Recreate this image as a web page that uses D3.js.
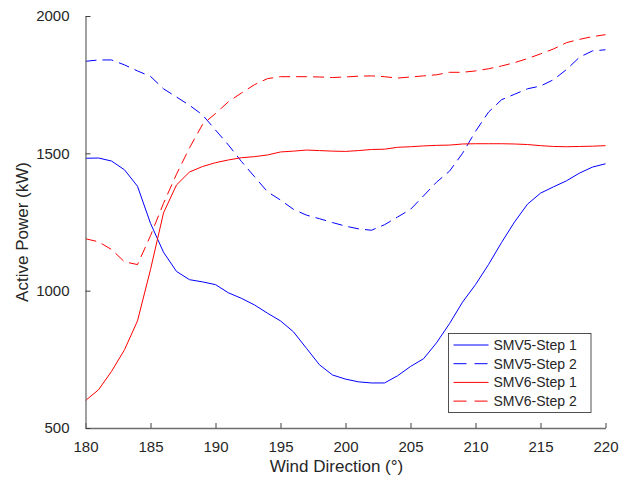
<!DOCTYPE html>
<html>
<head>
<meta charset="utf-8">
<script src="https://cdn.jsdelivr.net/npm/d3@7"></script>
<style>
  body { margin: 0; background: #fff; }
  text { font-family: "Liberation Sans", Arial, Helvetica, sans-serif; fill: #262626; }
</style>
</head>
<body>
<div id="chart"></div>
<script>
// wind direction, 1 degree steps
const direction = d3.range(180, 221)

const smv5Step1 = [1482, 1483, 1472, 1440, 1380, 1245, 1140, 1070, 1040, 1032,
  1022, 992, 972, 948, 918, 890, 850, 790, 730, 693,
  678, 668, 664, 664, 690, 724, 752, 810, 880, 958,
  1022, 1095, 1175, 1250, 1315, 1355, 1378, 1400, 1428, 1450, 1462]

const smv5Step2 = [1835, 1840, 1840, 1822, 1800, 1780, 1735, 1705, 1675, 1640,
  1585, 1530, 1470, 1415, 1360, 1330, 1296, 1275, 1262, 1248,
  1235, 1225, 1220, 1240, 1268, 1296, 1345, 1395, 1435, 1500,
  1580, 1650, 1695, 1715, 1735, 1745, 1768, 1805, 1850, 1873, 1877]

const smv6Step1 = [600, 639, 706, 785, 890, 1077, 1283, 1385, 1432, 1452,
  1466, 1476, 1484, 1488, 1494, 1505, 1508, 1512, 1510, 1508,
  1507, 1510, 1514, 1515, 1522, 1524, 1527, 1529, 1530, 1534,
  1535, 1535, 1535, 1534, 1532, 1528, 1525, 1524, 1525, 1526, 1528]

const smv6Step2 = [1189, 1178, 1150, 1105, 1095, 1200, 1318, 1424, 1520, 1605,
  1645, 1688, 1720, 1750, 1772, 1779, 1779, 1779, 1778, 1776,
  1778, 1781, 1782, 1779, 1774, 1778, 1782, 1786, 1795, 1795,
  1800, 1808, 1818, 1830, 1845, 1862, 1880, 1903, 1915, 1925, 1932]

const seriesNames = ["SMV5-Step 1", "SMV5-Step 2", "SMV6-Step 1", "SMV6-Step 2"]
const xTicks = [180, 185, 190, 195, 200, 205, 210, 215, 220]
const yTicks = [500, 1000, 1500, 2000]

const series = [
  {name: seriesNames[0], values: smv5Step1, color: "#0000ff", dash: null},
  {name: seriesNames[1], values: smv5Step2, color: "#0000ff", dash: "11,6"},
  {name: seriesNames[2], values: smv6Step1, color: "#ff0000", dash: null},
  {name: seriesNames[3], values: smv6Step2, color: "#ff0000", dash: "11,6"}
]

let W = 629, H = 477
let margin = {top: 16, right: 23.5, bottom: 49, left: 85.5},
    width = W - margin.left - margin.right,
    height = H - margin.top - margin.bottom;

let svg = d3.select("#chart")
    .append("svg")
    .attr("width", W)
    .attr("height", H)
    .append("g")
    .attr("transform", "translate(" + margin.left + "," + margin.top + ")");

let x = d3.scaleLinear().domain([180, 220]).range([0, width])
let y = d3.scaleLinear().domain([500, 2000]).range([height, 0])

// lines
let line = d3.line()
    .x((d, i) => x(direction[i]))
    .y(d => y(d))

svg.selectAll(".series")
    .data(series)
    .join("path")
    .attr("class", "series")
    .attr("fill", "none")
    .attr("stroke", d => d.color)
    .attr("stroke-width", 1)
    .attr("stroke-dasharray", d => d.dash)
    .attr("d", d => line(d.values))

// axes, MATLAB style: ticks inside
let xAxis = svg.append("g")
    .attr("transform", "translate(0," + height + ")")
    .call(d3.axisBottom(x).tickValues(xTicks).tickFormat(d3.format("d"))
        .tickSizeInner(-5).tickSizeOuter(0).tickPadding(13))
let yAxis = svg.append("g")
    .call(d3.axisLeft(y).tickValues(yTicks).tickFormat(d3.format("d"))
        .tickSizeInner(-5).tickSizeOuter(0).tickPadding(13))

for (const ax of [xAxis, yAxis]) {
  ax.select(".domain").attr("stroke", "#6e6e6e").attr("stroke-width", 1.3)
  ax.selectAll(".tick line").attr("stroke", "#404040")
  ax.selectAll("text").style("font-size", "15px").attr("fill", "#262626")
}
yAxis.selectAll("text").attr("dx", "-0.2em")

svg.append("text")
    .attr("x", 251)
    .attr("y", height + 44)
    .attr("text-anchor", "middle")
    .style("font-size", "17px")
    .text("Wind Direction (°)")

svg.append("text")
    .attr("transform", "translate(" + (28 - margin.left) + "," + 216 + ")rotate(-90)")
    .attr("text-anchor", "middle")
    .style("font-size", "17px")
    .text("Active Power (kW)")

// legend
let legend = svg.append("g")
    .attr("transform", "translate(" + (448.5 - margin.left) + "," + (333.5 - margin.top) + ")")

legend.append("rect")
    .attr("width", 142.5)
    .attr("height", 79)
    .attr("fill", "#fff")
    .attr("stroke", "#262626")
    .attr("stroke-width", 0.8)

let rows = legend.selectAll(".row")
    .data(series)
    .join("g")
    .attr("transform", (d, i) => "translate(0," + (11.5 + i * 18.7) + ")")

rows.append("line")
    .attr("x1", 5).attr("x2", 40)
    .attr("stroke", d => d.color)
    .attr("stroke-width", 1)
    .attr("stroke-dasharray", d => d.dash ? "13,8" : null)

rows.append("text")
    .attr("x", 45)
    .attr("dy", "0.36em")
    .style("font-size", "14px")
    .text(d => d.name)
</script>
</body>
</html>
